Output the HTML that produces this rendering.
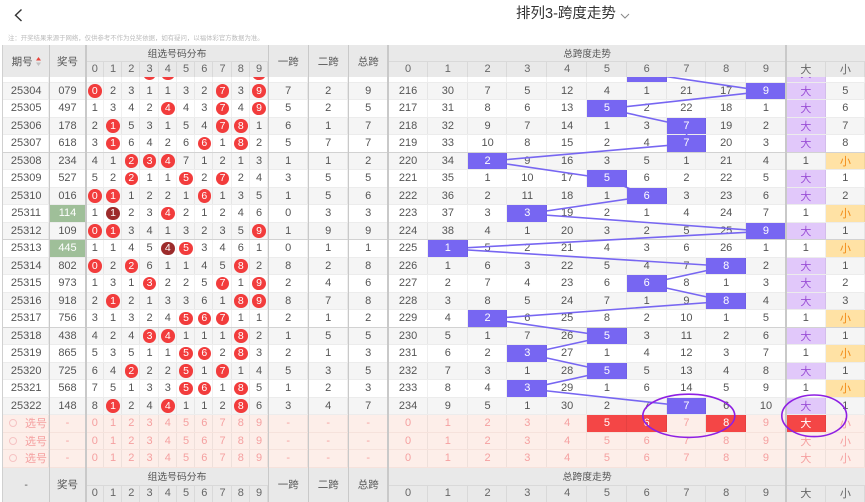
<!DOCTYPE html>
<html><head><meta charset="utf-8">
<style>
*{box-sizing:border-box;margin:0;padding:0}
body{width:865px;height:502px;overflow:hidden;position:relative;background:#fff;font-family:"Liberation Sans","Noto Sans CJK SC",sans-serif;color:#555}
.r{display:grid;grid-template-columns:46.3px 36.4px repeat(10,18.26px) 40px 40px 40px repeat(10,39.77px) 40px 39px;height:17.5px;font-size:11px;border-bottom:1px solid #ececec;background:#fff}
.r.g{background:#f5f5f5}
.r.b{border-bottom-color:#d2d2d2}
.r>i{font-style:normal;display:flex;align-items:center;justify-content:center;box-shadow:inset -1px 0 rgba(0,0,0,.06);white-space:nowrap}
.r b{font-weight:normal;width:13.5px;height:13.5px;border-radius:50%;background:#f23c3c;color:#fff;display:flex;align-items:center;justify-content:center;font-size:10.5px}
.r b.d{background:#9c2b2b}
.r>i.h{background:#7766f2;color:#fff;position:relative;z-index:2}
.r>i.gr{background:#9fbf99;color:#fff}
.r>i.da{background:#e1c8fa;color:#9a4fd6}
.r>i.xi{background:#ffe2a5;color:#f28a14}
.r.s{background:#fdeee9;color:#f5a0a0;border-bottom-color:#f6e2dc}
.r.s>i.rd{background:#f44646;color:#fff}
.ci{display:inline-block;width:8px;height:8px;border:1px solid #f6c3c3;border-radius:50%;margin-right:8px}
.hd{position:absolute;left:3px;width:862px;background:#e9e9e9}
.lab{position:absolute;display:flex;align-items:center;justify-content:center;font-size:10.5px;color:#555}
.sub{position:absolute;left:0;display:grid;grid-template-columns:46.3px 36.4px repeat(10,18.26px) 40px 40px 40px repeat(10,39.77px) 40px 39px;font-size:11px;color:#666}
.sub>i{font-style:normal;display:flex;align-items:center;justify-content:center}
.sub>i.k{box-shadow:inset -1px 0 #d9d9d9,inset 0 1px #d9d9d9}
.sep{position:absolute;top:45px;height:457px;width:1.5px;background:#c9c9c9;z-index:3}
</style></head><body>

<svg style="position:absolute;left:0;top:0" width="40" height="30"><polyline points="21.5,9.5 15.5,15.2 21.5,21" fill="none" stroke="#333" stroke-width="1.4"/></svg>
<div style="position:absolute;left:516px;top:7px;font-size:14.5px;line-height:15px;color:#333;white-space:nowrap">排列3-跨度走势</div>
<svg style="position:absolute;left:618px;top:10px" width="14" height="12"><polyline points="3,4 7,8 11,4" fill="none" stroke="#888" stroke-width="1"/></svg>
<div style="position:absolute;left:8px;top:34.5px;font-size:6.4px;line-height:8px;color:#bbb;white-space:nowrap">注：开奖结果来源于网络，仅供参考不作为兑奖依据，如有疑问，以福体彩官方数据为准。</div>

<!-- header -->
<div class="hd" style="top:45px;height:32px">
  <div class="lab" style="left:0;width:46.3px;top:0;height:32px">期号<svg width="5" height="9" style="margin-left:3px"><path d="M0 3.5L2.5 0L5 3.5Z" fill="#e8453c"/><path d="M0 5.5L2.5 9L5 5.5Z" fill="#c0c0c0"/></svg></div>
  <div class="lab" style="left:46.3px;width:36.4px;top:0;height:32px">奖号</div>
  <div class="lab" style="left:82.7px;width:182.6px;top:0;height:16px;font-size:9.8px">组选号码分布</div>
  <div class="lab" style="left:265.3px;width:40px;top:0;height:32px">一跨</div>
  <div class="lab" style="left:305.3px;width:40px;top:0;height:32px">二跨</div>
  <div class="lab" style="left:345.3px;width:40px;top:0;height:32px">总跨</div>
  <div class="lab" style="left:385.3px;width:397.7px;top:0;height:16px;font-size:9.5px">总跨度走势</div>
  <div class="sub" style="top:16px;height:16px"><i></i><i></i><i class="k">0</i><i class="k">1</i><i class="k">2</i><i class="k">3</i><i class="k">4</i><i class="k">5</i><i class="k">6</i><i class="k">7</i><i class="k">8</i><i class="k">9</i><i></i><i></i><i></i><i class="k">0</i><i class="k">1</i><i class="k">2</i><i class="k">3</i><i class="k">4</i><i class="k">5</i><i class="k">6</i><i class="k">7</i><i class="k">8</i><i class="k">9</i><i class="k">大</i><i class="k">小</i></div>
</div>

<!-- body -->
<div style="position:absolute;left:0;top:77px;width:865px;height:390.5px;overflow:hidden">
<div style="margin-left:3px;margin-top:-12px;width:862px">
<div class="r"><i>25303</i><i>349</i><i>4</i><i>1</i><i>2</i><i><b>3</b></i><i><b>4</b></i><i>2</i><i>1</i><i>11</i><i>2</i><i><b>9</b></i><i>1</i><i>5</i><i>6</i><i>215</i><i>29</i><i>6</i><i>4</i><i>11</i><i>3</i><i class="h">6</i><i>20</i><i>16</i><i>10</i><i class="da">大</i><i>4</i></div>
<div class="r g"><i>25304</i><i>079</i><i><b>0</b></i><i>2</i><i>3</i><i>1</i><i>1</i><i>3</i><i>2</i><i><b>7</b></i><i>3</i><i><b>9</b></i><i>7</i><i>2</i><i>9</i><i>216</i><i>30</i><i>7</i><i>5</i><i>12</i><i>4</i><i>1</i><i>21</i><i>17</i><i class="h">9</i><i class="da">大</i><i>5</i></div>
<div class="r"><i>25305</i><i>497</i><i>1</i><i>3</i><i>4</i><i>2</i><i><b>4</b></i><i>4</i><i>3</i><i><b>7</b></i><i>4</i><i><b>9</b></i><i>5</i><i>2</i><i>5</i><i>217</i><i>31</i><i>8</i><i>6</i><i>13</i><i class="h">5</i><i>2</i><i>22</i><i>18</i><i>1</i><i class="da">大</i><i>6</i></div>
<div class="r g"><i>25306</i><i>178</i><i>2</i><i><b>1</b></i><i>5</i><i>3</i><i>1</i><i>5</i><i>4</i><i><b>7</b></i><i><b>8</b></i><i>1</i><i>6</i><i>1</i><i>7</i><i>218</i><i>32</i><i>9</i><i>7</i><i>14</i><i>1</i><i>3</i><i class="h">7</i><i>19</i><i>2</i><i class="da">大</i><i>7</i></div>
<div class="r b"><i>25307</i><i>618</i><i>3</i><i><b>1</b></i><i>6</i><i>4</i><i>2</i><i>6</i><i><b>6</b></i><i>1</i><i><b>8</b></i><i>2</i><i>5</i><i>7</i><i>7</i><i>219</i><i>33</i><i>10</i><i>8</i><i>15</i><i>2</i><i>4</i><i class="h">7</i><i>20</i><i>3</i><i class="da">大</i><i>8</i></div>
<div class="r g"><i>25308</i><i>234</i><i>4</i><i>1</i><i><b>2</b></i><i><b>3</b></i><i><b>4</b></i><i>7</i><i>1</i><i>2</i><i>1</i><i>3</i><i>1</i><i>1</i><i>2</i><i>220</i><i>34</i><i class="h">2</i><i>9</i><i>16</i><i>3</i><i>5</i><i>1</i><i>21</i><i>4</i><i>1</i><i class="xi">小</i></div>
<div class="r"><i>25309</i><i>527</i><i>5</i><i>2</i><i><b>2</b></i><i>1</i><i>1</i><i><b>5</b></i><i>2</i><i><b>7</b></i><i>2</i><i>4</i><i>3</i><i>5</i><i>5</i><i>221</i><i>35</i><i>1</i><i>10</i><i>17</i><i class="h">5</i><i>6</i><i>2</i><i>22</i><i>5</i><i class="da">大</i><i>1</i></div>
<div class="r g"><i>25310</i><i>016</i><i><b>0</b></i><i><b>1</b></i><i>1</i><i>2</i><i>2</i><i>1</i><i><b>6</b></i><i>1</i><i>3</i><i>5</i><i>1</i><i>5</i><i>6</i><i>222</i><i>36</i><i>2</i><i>11</i><i>18</i><i>1</i><i class="h">6</i><i>3</i><i>23</i><i>6</i><i class="da">大</i><i>2</i></div>
<div class="r"><i>25311</i><i class="gr">114</i><i>1</i><i><b class="d">1</b></i><i>2</i><i>3</i><i><b>4</b></i><i>2</i><i>1</i><i>2</i><i>4</i><i>6</i><i>0</i><i>3</i><i>3</i><i>223</i><i>37</i><i>3</i><i class="h">3</i><i>19</i><i>2</i><i>1</i><i>4</i><i>24</i><i>7</i><i>1</i><i class="xi">小</i></div>
<div class="r g b"><i>25312</i><i>109</i><i><b>0</b></i><i><b>1</b></i><i>3</i><i>4</i><i>1</i><i>3</i><i>2</i><i>3</i><i>5</i><i><b>9</b></i><i>1</i><i>9</i><i>9</i><i>224</i><i>38</i><i>4</i><i>1</i><i>20</i><i>3</i><i>2</i><i>5</i><i>25</i><i class="h">9</i><i class="da">大</i><i>1</i></div>
<div class="r"><i>25313</i><i class="gr">445</i><i>1</i><i>1</i><i>4</i><i>5</i><i><b class="d">4</b></i><i><b>5</b></i><i>3</i><i>4</i><i>6</i><i>1</i><i>0</i><i>1</i><i>1</i><i>225</i><i class="h">1</i><i>5</i><i>2</i><i>21</i><i>4</i><i>3</i><i>6</i><i>26</i><i>1</i><i>1</i><i class="xi">小</i></div>
<div class="r g"><i>25314</i><i>802</i><i><b>0</b></i><i>2</i><i><b>2</b></i><i>6</i><i>1</i><i>1</i><i>4</i><i>5</i><i><b>8</b></i><i>2</i><i>8</i><i>2</i><i>8</i><i>226</i><i>1</i><i>6</i><i>3</i><i>22</i><i>5</i><i>4</i><i>7</i><i class="h">8</i><i>2</i><i class="da">大</i><i>1</i></div>
<div class="r"><i>25315</i><i>973</i><i>1</i><i>3</i><i>1</i><i><b>3</b></i><i>2</i><i>2</i><i>5</i><i><b>7</b></i><i>1</i><i><b>9</b></i><i>2</i><i>4</i><i>6</i><i>227</i><i>2</i><i>7</i><i>4</i><i>23</i><i>6</i><i class="h">6</i><i>8</i><i>1</i><i>3</i><i class="da">大</i><i>2</i></div>
<div class="r g"><i>25316</i><i>918</i><i>2</i><i><b>1</b></i><i>2</i><i>1</i><i>3</i><i>3</i><i>6</i><i>1</i><i><b>8</b></i><i><b>9</b></i><i>8</i><i>7</i><i>8</i><i>228</i><i>3</i><i>8</i><i>5</i><i>24</i><i>7</i><i>1</i><i>9</i><i class="h">8</i><i>4</i><i class="da">大</i><i>3</i></div>
<div class="r b"><i>25317</i><i>756</i><i>3</i><i>1</i><i>3</i><i>2</i><i>4</i><i><b>5</b></i><i><b>6</b></i><i><b>7</b></i><i>1</i><i>1</i><i>2</i><i>1</i><i>2</i><i>229</i><i>4</i><i class="h">2</i><i>6</i><i>25</i><i>8</i><i>2</i><i>10</i><i>1</i><i>5</i><i>1</i><i class="xi">小</i></div>
<div class="r g"><i>25318</i><i>438</i><i>4</i><i>2</i><i>4</i><i><b>3</b></i><i><b>4</b></i><i>1</i><i>1</i><i>1</i><i><b>8</b></i><i>2</i><i>1</i><i>5</i><i>5</i><i>230</i><i>5</i><i>1</i><i>7</i><i>26</i><i class="h">5</i><i>3</i><i>11</i><i>2</i><i>6</i><i class="da">大</i><i>1</i></div>
<div class="r"><i>25319</i><i>865</i><i>5</i><i>3</i><i>5</i><i>1</i><i>1</i><i><b>5</b></i><i><b>6</b></i><i>2</i><i><b>8</b></i><i>3</i><i>2</i><i>1</i><i>3</i><i>231</i><i>6</i><i>2</i><i class="h">3</i><i>27</i><i>1</i><i>4</i><i>12</i><i>3</i><i>7</i><i>1</i><i class="xi">小</i></div>
<div class="r g"><i>25320</i><i>725</i><i>6</i><i>4</i><i><b>2</b></i><i>2</i><i>2</i><i><b>5</b></i><i>1</i><i><b>7</b></i><i>1</i><i>4</i><i>5</i><i>3</i><i>5</i><i>232</i><i>7</i><i>3</i><i>1</i><i>28</i><i class="h">5</i><i>5</i><i>13</i><i>4</i><i>8</i><i class="da">大</i><i>1</i></div>
<div class="r"><i>25321</i><i>568</i><i>7</i><i>5</i><i>1</i><i>3</i><i>3</i><i><b>5</b></i><i><b>6</b></i><i>1</i><i><b>8</b></i><i>5</i><i>1</i><i>2</i><i>3</i><i>233</i><i>8</i><i>4</i><i class="h">3</i><i>29</i><i>1</i><i>6</i><i>14</i><i>5</i><i>9</i><i>1</i><i class="xi">小</i></div>
<div class="r g"><i>25322</i><i>148</i><i>8</i><i><b>1</b></i><i>2</i><i>4</i><i><b>4</b></i><i>1</i><i>1</i><i>2</i><i><b>8</b></i><i>6</i><i>3</i><i>4</i><i>7</i><i>234</i><i>9</i><i>5</i><i>1</i><i>30</i><i>2</i><i>7</i><i class="h">7</i><i>6</i><i>10</i><i class="da">大</i><i>1</i></div>
<div class="r s"><i style="justify-content:flex-start;padding-left:6px"><span class="ci"></span>选号</i><i>-</i><i>0</i><i>1</i><i>2</i><i>3</i><i>4</i><i>5</i><i>6</i><i>7</i><i>8</i><i>9</i><i>-</i><i>-</i><i>-</i><i>0</i><i>1</i><i>2</i><i>3</i><i>4</i><i class="rd">5</i><i class="rd">6</i><i>7</i><i class="rd">8</i><i>9</i><i class="rd">大</i><i>小</i></div>
<div class="r s"><i style="justify-content:flex-start;padding-left:6px"><span class="ci"></span>选号</i><i>-</i><i>0</i><i>1</i><i>2</i><i>3</i><i>4</i><i>5</i><i>6</i><i>7</i><i>8</i><i>9</i><i>-</i><i>-</i><i>-</i><i>0</i><i>1</i><i>2</i><i>3</i><i>4</i><i>5</i><i>6</i><i>7</i><i>8</i><i>9</i><i>大</i><i>小</i></div>
<div class="r s"><i style="justify-content:flex-start;padding-left:6px"><span class="ci"></span>选号</i><i>-</i><i>0</i><i>1</i><i>2</i><i>3</i><i>4</i><i>5</i><i>6</i><i>7</i><i>8</i><i>9</i><i>-</i><i>-</i><i>-</i><i>0</i><i>1</i><i>2</i><i>3</i><i>4</i><i>5</i><i>6</i><i>7</i><i>8</i><i>9</i><i>大</i><i>小</i></div>
</div>
<svg style="position:absolute;left:0;top:-77px;z-index:1" width="865" height="502"><polyline fill="none" stroke="#7766f2" stroke-width="1.6" points="646.8,73.75 766.1,91.25 607.1,108.75 686.6,126.25 686.6,143.75 487.7,161.25 607.1,178.75 646.8,196.25 527.5,213.75 766.1,231.25 448,248.75 726.4,266.25 646.8,283.75 726.4,301.25 487.7,318.75 607.1,336.25 527.5,353.75 607.1,371.25 527.5,388.75 686.6,406.25"/></svg>
</div>

<!-- footer -->
<div class="hd" style="top:467.5px;height:34.5px">
  <div class="lab" style="left:0;width:46.3px;top:0;height:34.5px">-</div>
  <div class="lab" style="left:46.3px;width:36.4px;top:0;height:34.5px">奖号</div>
  <div class="lab" style="left:82.7px;width:182.6px;top:0;height:17px;font-size:9.8px">组选号码分布</div>
  <div class="lab" style="left:265.3px;width:40px;top:0;height:34.5px">一跨</div>
  <div class="lab" style="left:305.3px;width:40px;top:0;height:34.5px">二跨</div>
  <div class="lab" style="left:345.3px;width:40px;top:0;height:34.5px">总跨</div>
  <div class="lab" style="left:385.3px;width:397.7px;top:0;height:17px;font-size:9.8px">总跨度走势</div>
  <div class="sub" style="top:17px;height:17.5px"><i></i><i></i><i class="k">0</i><i class="k">1</i><i class="k">2</i><i class="k">3</i><i class="k">4</i><i class="k">5</i><i class="k">6</i><i class="k">7</i><i class="k">8</i><i class="k">9</i><i></i><i></i><i></i><i class="k">0</i><i class="k">1</i><i class="k">2</i><i class="k">3</i><i class="k">4</i><i class="k">5</i><i class="k">6</i><i class="k">7</i><i class="k">8</i><i class="k">9</i><i class="k">大</i><i class="k">小</i></div>
</div>

<!-- major separators -->
<div class="sep" style="left:2px;width:1px;background:#d0d0d0"></div>
<div class="sep" style="left:48.6px"></div>
<div class="sep" style="left:85px"></div>
<div class="sep" style="left:267.6px"></div>
<div class="sep" style="left:307.6px"></div>
<div class="sep" style="left:347.6px"></div>
<div class="sep" style="left:387px"></div>
<div class="sep" style="left:785px"></div>

<svg style="position:absolute;left:0;top:0;z-index:4" width="865" height="502"><ellipse cx="688.8" cy="415.8" rx="46" ry="21.6" fill="none" stroke="#8e1fe3" stroke-width="1.6"/><ellipse cx="814.2" cy="415.8" rx="32.4" ry="20.8" fill="none" stroke="#8e1fe3" stroke-width="1.6"/></svg>
</body></html>
